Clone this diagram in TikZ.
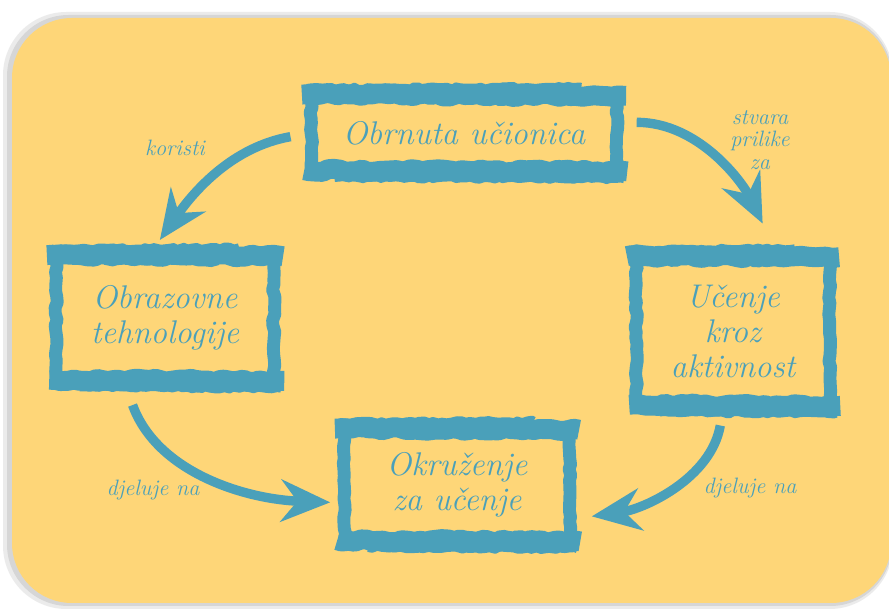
\documentclass[tikz,border=0pt]{standalone}
\usepackage{fontspec}
\usepackage{tikz}
\usetikzlibrary{arrows.meta, positioning, decorations.pathmorphing}
\definecolor{brushteal}{RGB}{74,160,186}
\definecolor{bgyellow}{RGB}{254,214,120}
\tikzset{
  conceptbox/.style={rectangle, inner sep=0pt, align=center,
    text=brushteal, font=\itshape\fontsize{28}{30}\selectfont},
  brushh/.style={draw=brushteal, line width=17pt, line join=bevel, decorate,
    decoration={random steps, segment length=5pt, amplitude=1.4pt}},
  brushv/.style={draw=brushteal, line width=11pt, line join=bevel, decorate,
    decoration={random steps, segment length=5pt, amplitude=1pt}},
  brushfine/.style={draw=brushteal, line width=4pt, line join=bevel, decorate,
    decoration={random steps, segment length=4pt, amplitude=1pt}},
  linktext/.style={text=brushteal, align=center,
    font=\itshape\fontsize{19}{19}\selectfont},
  bigarrow/.style={-{Stealth[length=42pt, width=36pt, inset=14pt]},
    line width=8pt, draw=brushteal}
}
% painted frame round a concept node
\newcommand{\brushframe}[1]{%
  \draw[brushh] ([xshift=-8pt,yshift=1pt]#1.north west) -- ([xshift=8pt]#1.north east);
  \draw[brushh] ([xshift=-6pt]#1.south west) -- ([xshift=9pt,yshift=-1pt]#1.south east);
  \draw[brushv] ([yshift=6pt]#1.north west) -- ([yshift=-6pt]#1.south west);
  \draw[brushv] ([yshift=6pt]#1.north east) -- ([yshift=-6pt]#1.south east);
  \draw[brushfine] ([xshift=-4pt,yshift=8pt]#1.north west) -- ([xshift=-30pt,yshift=9pt]#1.north east);
  \draw[brushfine] ([xshift=20pt,yshift=-8pt]#1.south west) -- ([xshift=6pt,yshift=-9pt]#1.south east);
}

\begin{document}
\begin{tikzpicture}[x=0.03cm, y=0.03cm]
  \pgfmathsetseed{7}
  \useasboundingbox (0,0) rectangle (889,612);
  % card
  \fill[black!8, rounded corners=1.9cm] (3,3) rectangle (893,600);
  \fill[black!16, rounded corners=1.85cm] (7,6) rectangle (892,597);
  \fill[bgyellow, rounded corners=1.8cm] (12,9) rectangle (891,594);

  % concepts
  \node[conceptbox, minimum width=9.15cm, minimum height=2.22cm] (flipped) at (464,479) {Obrnuta učionica};
  \node[conceptbox, minimum width=6.51cm, minimum height=3.69cm] (edutech) at (165,294) {Obrazovne\\tehnologije};
  \node[conceptbox, minimum width=5.79cm, minimum height=4.41cm] (active) at (733,281) {Učenje\\kroz\\aktivnost};
  \node[conceptbox, minimum width=6.75cm, minimum height=3.3cm] (environ) at (457,127) {Okruženje\\za učenje};
  \brushframe{flipped}
  \brushframe{edutech}
  \brushframe{active}
  \brushframe{environ}

  % links
  \draw[bigarrow, shorten <=18pt, shorten >=17pt] (flipped.west) to[out=190, in=55] (edutech.105);
  \draw[bigarrow, shorten <=17pt, shorten >=32pt] (flipped.4) to[out=0, in=116] (active.58);
  \draw[bigarrow, shorten <=23pt, shorten >=12pt] (edutech.236) to[out=-70, in=178] (environ.189);
  \draw[bigarrow, shorten <=18pt, shorten >=19pt] (active.263) to[out=-100, in=8] (environ.343);

  \node[linktext] (uses) at (175,464) {koristi};
  \node[linktext] (creates) at (760,472) {stvara\\prilike\\za};
  \node[linktext] (actsleft) at (153,122) {djeluje na};
  \node[linktext] (actsright) at (750,124) {djeluje na};
\end{tikzpicture}
\end{document}
